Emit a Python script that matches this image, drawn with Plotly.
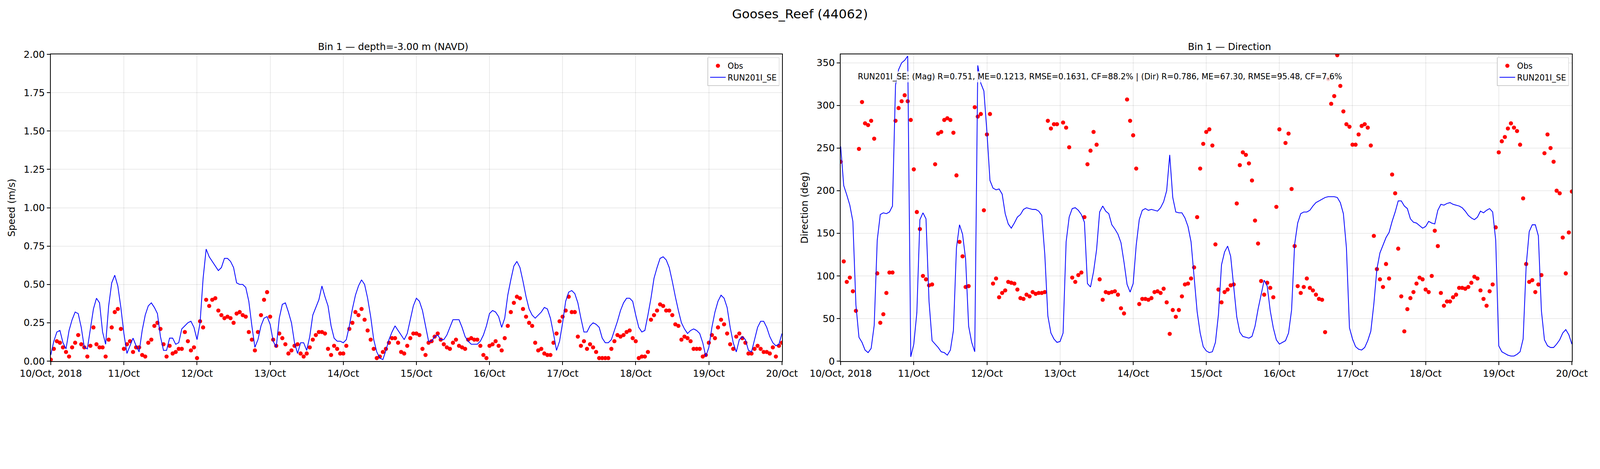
import pandas as pd
import plotly.graph_objects as go
from plotly.subplots import make_subplots

STATION = "Gooses_Reef (44062)"
RUN = "RUN201I_SE"

# hourly, 10 Oct 2018 00:00 .. 20 Oct 2018 00:00
obs_speed = [
    0.01, 0.08, 0.13, 0.12, 0.09, 0.06, 0.03, 0.09, 0.12, 0.17, 0.11, 0.09, 0.03, 0.10, 0.22, 0.11, 0.09, 0.09, 0.03, 0.14, 0.22, 0.32, 0.34, 0.21,
    0.08, 0.11, 0.13, 0.06, 0.09, 0.09, 0.04, 0.03, 0.12, 0.14, 0.23, 0.25, 0.21, 0.11, 0.03, 0.10, 0.05, 0.06, 0.08, 0.08, 0.19, 0.13, 0.07, 0.09,
    0.02, 0.26, 0.22, 0.40, 0.36, 0.40, 0.41, 0.33, 0.30, 0.28, 0.29, 0.28, 0.25, 0.31, 0.32, 0.30, 0.29, 0.19, 0.14, 0.07, 0.19, 0.30, 0.40, 0.45,
    0.29, 0.14, 0.10, 0.18, 0.15, 0.11, 0.05, 0.07, 0.10, 0.11, 0.05, 0.03, 0.05, 0.09, 0.14, 0.17, 0.19, 0.19, 0.18, 0.08, 0.04, 0.10, 0.08, 0.05,
    0.05, 0.10, 0.21, 0.25, 0.32, 0.30, 0.34, 0.27, 0.20, 0.14, 0.08, 0.02, 0.03, 0.06, 0.08, 0.12, 0.15, 0.15, 0.12, 0.06, 0.05, 0.10, 0.15, 0.18,
    0.18, 0.17, 0.08, 0.04, 0.12, 0.13, 0.16, 0.18, 0.14, 0.11, 0.09, 0.08, 0.12, 0.14, 0.10, 0.09, 0.08, 0.14, 0.15, 0.14, 0.14, 0.10, 0.04, 0.02,
    0.10, 0.11, 0.13, 0.10, 0.07, 0.15, 0.23, 0.32, 0.38, 0.42, 0.41, 0.34, 0.29, 0.25, 0.23, 0.12, 0.07, 0.08, 0.05, 0.04, 0.04, 0.12, 0.18, 0.26,
    0.29, 0.33, 0.42, 0.32, 0.32, 0.16, 0.10, 0.13, 0.08, 0.11, 0.09, 0.06, 0.02, 0.02, 0.02, 0.02, 0.08, 0.13, 0.17, 0.16, 0.17, 0.19, 0.20, 0.15,
    0.13, 0.02, 0.03, 0.03, 0.06, 0.27, 0.30, 0.33, 0.37, 0.36, 0.33, 0.33, 0.30, 0.24, 0.23, 0.14, 0.16, 0.15, 0.13, 0.08, 0.08, 0.08, 0.03, 0.04,
    0.12, 0.17, 0.15, 0.22, 0.27, 0.24, 0.18, 0.11, 0.08, 0.16, 0.18, 0.15, 0.12, 0.05, 0.05, 0.08, 0.10, 0.08, 0.06, 0.06, 0.05, 0.09, 0.03, 0.10,
    0.12,
]

mod_speed = [
    0.04, 0.13, 0.19, 0.20, 0.12, 0.08, 0.20, 0.27, 0.32, 0.31, 0.22, 0.09, 0.08, 0.21, 0.34, 0.41, 0.38, 0.19, 0.11, 0.36, 0.51, 0.56, 0.49, 0.35,
    0.18, 0.05, 0.10, 0.15, 0.10, 0.06, 0.20, 0.30, 0.36, 0.38, 0.35, 0.31, 0.16, 0.07, 0.07, 0.15, 0.15, 0.11, 0.12, 0.21, 0.23, 0.25, 0.26, 0.22,
    0.14, 0.25, 0.54, 0.73, 0.68, 0.65, 0.62, 0.59, 0.61, 0.67, 0.67, 0.65, 0.61, 0.51, 0.50, 0.50, 0.48, 0.39, 0.23, 0.09, 0.14, 0.23, 0.28, 0.29,
    0.24, 0.13, 0.09, 0.28, 0.37, 0.38, 0.32, 0.25, 0.12, 0.05, 0.12, 0.12, 0.07, 0.16, 0.30, 0.35, 0.40, 0.49, 0.42, 0.36, 0.23, 0.15, 0.13, 0.13,
    0.12, 0.14, 0.23, 0.34, 0.43, 0.49, 0.53, 0.50, 0.41, 0.29, 0.14, 0.06, 0.02, 0.01, 0.07, 0.14, 0.19, 0.23, 0.20, 0.17, 0.14, 0.18, 0.27, 0.36,
    0.41, 0.39, 0.33, 0.23, 0.13, 0.13, 0.16, 0.17, 0.14, 0.14, 0.17, 0.22, 0.27, 0.27, 0.27, 0.22, 0.16, 0.13, 0.11, 0.11, 0.11, 0.13, 0.17, 0.23,
    0.31, 0.33, 0.32, 0.29, 0.22, 0.28, 0.43, 0.53, 0.62, 0.65, 0.61, 0.52, 0.42, 0.34, 0.30, 0.28, 0.30, 0.32, 0.35, 0.34, 0.28, 0.18, 0.07, 0.13,
    0.25, 0.39, 0.45, 0.46, 0.44, 0.38, 0.28, 0.19, 0.19, 0.23, 0.25, 0.24, 0.22, 0.15, 0.12, 0.12, 0.14, 0.20, 0.26, 0.33, 0.38, 0.41, 0.41, 0.39,
    0.30, 0.22, 0.19, 0.20, 0.30, 0.41, 0.54, 0.61, 0.67, 0.68, 0.66, 0.61, 0.52, 0.42, 0.33, 0.25, 0.21, 0.18, 0.20, 0.21, 0.20, 0.18, 0.12, 0.03,
    0.09, 0.22, 0.32, 0.39, 0.43, 0.41, 0.35, 0.22, 0.12, 0.06, 0.14, 0.16, 0.14, 0.07, 0.06, 0.14, 0.22, 0.26, 0.26, 0.22, 0.16, 0.12, 0.10, 0.11,
    0.18,
]

obs_dir = [
    234, 117, 93, 98, 82, 59, 249, 304, 279, 277, 282, 261, 103, 45, 55, 80, 104, 104, 282, 297, 305, 312, 305, 283,
    225, 175, 155, 100, 96, 89, 90, 231, 267, 269, 283, 285, 283, 268, 218, 140, 123, 87, 88, None, 298, 287, 290, 177,
    266, 290, 91, 97, 75, 80, 83, 93, 92, 91, 84, 74, 73, 78, 76, 81, 79, 80, 80, 81, 282, 273, 278, 278,
    None, 280, 274, 251, 98, 93, 101, 104, 169, 231, 247, 269, 254, 96, 72, 81, 80, 81, 82, 78, 62, 56, 307, 282,
    265, 226, 67, 73, 73, 72, 74, 81, 82, 80, 85, 69, 32, 60, 52, 60, 76, 90, 91, 97, 110, 169, 226, 255,
    269, 272, 253, 137, 84, 69, 81, 84, 89, 90, 185, 230, 245, 242, 232, 212, 165, 138, 94, 78, 92, 86, 75, 181,
    272, None, 256, 267, 202, 135, 88, 80, 87, 97, 86, 83, 78, 73, 72, 34, 331, 302, 311, 359, 323, 293, 278, 275,
    254, 254, 266, 276, 278, 274, 253, 147, 108, 96, 87, 114, 97, 219, 197, 132, 76, 35, 61, 74, 81, 91, 98, 96,
    84, 81, 100, 153, 135, 80, 65, 70, 70, 75, 78, 86, 86, 85, 87, 92, 99, 97, 83, 73, 65, 82, 90, 157,
    245, 258, 263, 273, 279, 274, 270, 254, 191, 114, 93, 95, 81, 90, 101, 244, 266, 250, 234, 200, 197, 145, 103, 151,
    199,
]

mod_dir = [
    252, 206, 195, 183, 164, 66, 28, 22, 13, 10, 15, 42, 142, 172, 174, 173, 175, 182, 324, 342, 350, 353, 358, 5,
    20, 57, 166, 174, 167, 70, 24, 20, 16, 11, 10, 7, 13, 36, 133, 160, 149, 120, 41, 22, 11, 347, 326, 317,
    269, 212, 203, 201, 202, 196, 173, 161, 156, 162, 169, 172, 178, 180, 179, 178, 178, 176, 171, 125, 53, 33, 26, 22,
    23, 33, 140, 169, 179, 180, 177, 172, 163, 91, 87, 105, 131, 175, 182, 176, 173, 160, 155, 149, 139, 116, 90, 81,
    91, 136, 166, 177, 179, 177, 178, 177, 176, 180, 187, 200, 242, 192, 175, 174, 174, 168, 158, 140, 99, 58, 33, 17,
    12, 10, 11, 22, 55, 113, 128, 135, 123, 87, 52, 34, 29, 28, 27, 29, 41, 61, 78, 95, 88, 59, 39, 25,
    20, 22, 24, 33, 60, 137, 162, 173, 175, 175, 177, 182, 186, 188, 190, 192, 193, 193, 193, 192, 186, 173, 133, 39,
    26, 17, 14, 13, 16, 24, 35, 67, 108, 127, 136, 145, 151, 164, 175, 188, 188, 182, 179, 167, 163, 162, 159, 156,
    158, 164, 162, 161, 177, 184, 183, 185, 186, 184, 183, 182, 180, 176, 171, 168, 166, 169, 176, 174, 177, 179, 175, 142,
    18, 11, 9, 7, 6, 6, 8, 11, 26, 112, 152, 160, 160, 147, 59, 25, 18, 16, 16, 20, 25, 33, 37, 31,
    20,
]

tick_dates = pd.date_range("2018-10-10", "2018-10-20", freq="D")
tick_text = ["10/Oct, 2018"] + [d.strftime("%d/%b") for d in tick_dates[1:]]

stats_text = (f"{RUN}: (Mag) R=0.751, ME=0.1213, RMSE=0.1631, CF=88.2% | "
              "(Dir) R=0.786, ME=67.30, RMSE=95.48, CF=7.6%")

times = pd.date_range("2018-10-10", periods=len(obs_speed), freq="h")

# the page gets shown zoomed, so every pixel size is scaled down by S
S = 0.816
FONT = "DejaVu Sans"
fig = make_subplots(rows=1, cols=2,
                    subplot_titles=("Bin 1 — depth=-3.00 m (NAVD)", "Bin 1 — Direction"))

obs_marker = dict(color="red", size=13 * S)
line_style = dict(color="blue", width=2.5 * S)

fig.add_trace(go.Scatter(x=times, y=obs_speed, mode="markers", marker=obs_marker,
                         name="Obs", legend="legend"), row=1, col=1)
fig.add_trace(go.Scatter(x=times, y=mod_speed, mode="lines", line=line_style,
                         name=RUN, legend="legend"), row=1, col=1)
fig.add_trace(go.Scatter(x=times, y=obs_dir, mode="markers", marker=obs_marker,
                         name="Obs", legend="legend2"), row=1, col=2)
fig.add_trace(go.Scatter(x=times, y=mod_dir, mode="lines", line=line_style,
                         name=RUN, legend="legend2"), row=1, col=2)

axis_common = dict(showline=True, linecolor="black", linewidth=2.5 * S, mirror=True,
                   ticks="outside", ticklen=10 * S, tickwidth=2.5 * S, tickcolor="black",
                   showgrid=True, gridcolor="rgba(0,0,0,0.08)", gridwidth=2 * S,
                   tickfont=dict(size=30 * S, color="black"), zeroline=False,
                   automargin=False)

for c, dom in ((1, [0.0, 0.4807]), (2, [0.5193, 1.0])):
    fig.update_xaxes(axis_common, domain=dom, range=[tick_dates[0], tick_dates[-1]],
                     tickvals=tick_dates, ticktext=tick_text, row=1, col=c)

fig.update_yaxes(axis_common, domain=[0, 1], range=[0, 2.0], dtick=0.25,
                 tickformat=".2f", title=dict(text="Speed (m/s)", font=dict(size=30 * S)),
                 row=1, col=1)
fig.update_yaxes(axis_common, domain=[0, 1], range=[0, 360], dtick=50,
                 title=dict(text="Direction (deg)", font=dict(size=30 * S)), row=1, col=2)

for ann in fig.layout.annotations:
    ann.font = dict(size=30 * S, color="black", family=FONT)
    ann.yshift = 4 * S

fig.add_annotation(text=stats_text, xref="paper", yref="paper", x=0.530, y=0.927,
                   xanchor="left", yanchor="middle", showarrow=False,
                   font=dict(size=25 * S, color="black", family=FONT),
                   bgcolor="rgba(255,255,255,0.8)")

legend_style = dict(yanchor="top", xanchor="right", bgcolor="white",
                    bordercolor="#cccccc", borderwidth=2 * S,
                    font=dict(size=25 * S, color="black"), itemwidth=40)
fig.update_layout(
    width=round(5000 * S), height=round(1200 * S),
    font=dict(family=FONT, color="black"),
    paper_bgcolor="white", plot_bgcolor="white",
    margin=dict(l=150 * S, r=78 * S, t=160 * S, b=77 * S, autoexpand=False),
    title=dict(text=STATION, x=0.5, xanchor="center", y=0.972, yanchor="middle",
               font=dict(size=40 * S, color="black")),
    legend=dict(legend_style, x=0.479, y=0.99),
    legend2=dict(legend_style, x=0.998, y=0.99),
)

fig.write_html("out.html")
